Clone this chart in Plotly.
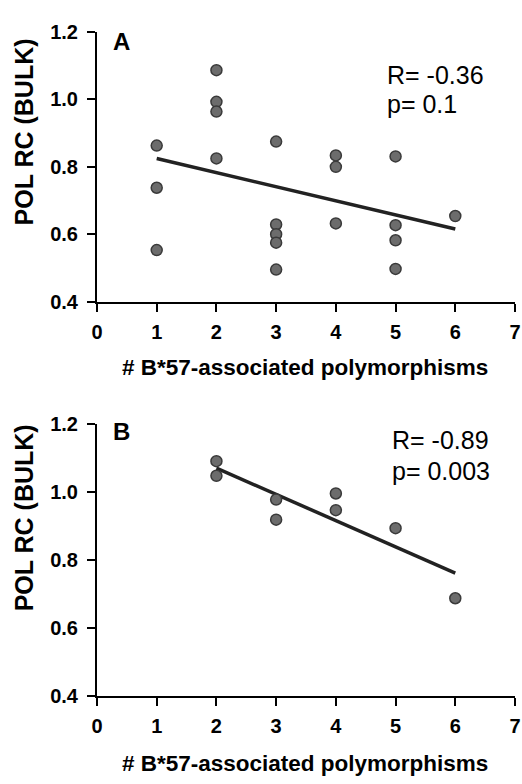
import numpy as np
import plotly.graph_objects as go

# ---- data ----
a_x = [1, 1, 1, 2, 2, 2, 2, 3, 3, 3, 3, 3, 4, 4, 4, 5, 5, 5, 5, 6]
a_y = [0.863, 0.738, 0.553, 1.087, 0.993, 0.964, 0.825, 0.875, 0.629, 0.600,
       0.575, 0.495, 0.834, 0.800, 0.632, 0.831, 0.627, 0.582, 0.497, 0.654]
b_x = [2, 2, 3, 3, 4, 4, 5, 6]
b_y = [1.091, 1.048, 0.978, 0.919, 0.996, 0.947, 0.894, 0.688]

panel_labels = ["A", "B"]
stats_a = ["R= -0.36", "p= 0.1"]
stats_b = ["R= -0.89", "p= 0.003"]
x_ticks = [0, 1, 2, 3, 4, 5, 6, 7]
y_ticks = [0.4, 0.6, 0.8, 1.0, 1.2]
y_tick_labels = ["0.4", "0.6", "0.8", "1.0", "1.2"]
x_title = "# B*57-associated polymorphisms"
y_title = "POL RC (BULK)"

FONT = "Liberation Sans, Arial, sans-serif"
W, H = 522, 784
L, R = 97, 7


def fit(xs, ys):
    k, b = np.polyfit(xs, ys, 1)
    xx = np.array([min(xs), max(xs)])
    return xx, k * xx + b


fig = go.Figure()
marker = dict(size=11, color="#6c6c6c", line=dict(color="#3a3a3a", width=1.5))
line = dict(color="#222222", width=3.5)

for xs, ys, xa, ya in [(a_x, a_y, "x", "y"), (b_x, b_y, "x2", "y2")]:
    lx, ly = fit(xs, ys)
    fig.add_trace(go.Scatter(x=lx, y=ly, mode="lines", line=line, xaxis=xa, yaxis=ya,
                             showlegend=False, hoverinfo="skip"))
    fig.add_trace(go.Scatter(x=xs, y=ys, mode="markers", marker=marker, xaxis=xa, yaxis=ya,
                             showlegend=False))


def px_to_paper_y(py):
    return 1 - py / H


def px_to_paper_x(px):
    return (px - L) / (W - L - R)


top_dom = [px_to_paper_y(299), px_to_paper_y(21.7)]
bot_dom = [px_to_paper_y(705), px_to_paper_y(425)]

ax_common = dict(showline=True, linecolor="black", linewidth=2, ticks="outside",
                 ticklen=8, tickwidth=2, tickcolor="black", showgrid=False, zeroline=False,
                 tickfont=dict(family=FONT, size=20, color="black", weight="bold"))

xa = dict(**ax_common, range=[0, 7], tickvals=x_ticks, domain=[0, 1], ticklabelstandoff=3)
ya = dict(**ax_common, range=[0.4, 1.2], tickvals=y_ticks, ticktext=y_tick_labels,
          ticklabelstandoff=5)

fig.update_layout(
    width=W, height=H, margin=dict(l=L, r=R, t=0, b=0),
    plot_bgcolor="white", paper_bgcolor="white",
    xaxis=dict(**xa, anchor="y"),
    yaxis=dict(**ya, anchor="x", domain=top_dom),
    xaxis2=dict(**xa, anchor="y2"),
    yaxis2=dict(**ya, anchor="x2", domain=bot_dom),
)

ann = []
for py_title, py_xt in [(125, 367), (522, 774)]:
    ann.append(dict(text=y_title, x=px_to_paper_x(24), y=px_to_paper_y(py_title),
                    xanchor="center", yanchor="middle",
                    xref="paper", yref="paper", showarrow=False, textangle=-90,
                    font=dict(family=FONT, size=25, color="black", weight="bold")))
    ann.append(dict(text=x_title, x=px_to_paper_x(305), y=px_to_paper_y(py_xt),
                    xanchor="center", yanchor="middle",
                    xref="paper", yref="paper", showarrow=False,
                    font=dict(family=FONT, size=22.5, color="black", weight="bold")))

for lab, py in zip(panel_labels, [31, 433]):
    ann.append(dict(text=lab, x=px_to_paper_x(111), y=px_to_paper_y(py),
                    xanchor="left", yanchor="middle",
                    xref="paper", yref="paper", showarrow=False,
                    font=dict(family=FONT, size=24, color="black", weight="bold")))

for stats, pys, px in [(stats_a, [66, 96], 385), (stats_b, [441, 473], 390)]:
    for s, py in zip(stats, pys):
        ann.append(dict(text=s, x=px_to_paper_x(px), y=px_to_paper_y(py),
                        xanchor="left", yanchor="middle",
                        xref="paper", yref="paper", showarrow=False,
                        font=dict(family=FONT, size=25, color="black")))

fig.update_layout(annotations=ann)
fig.write_html("out.html")
